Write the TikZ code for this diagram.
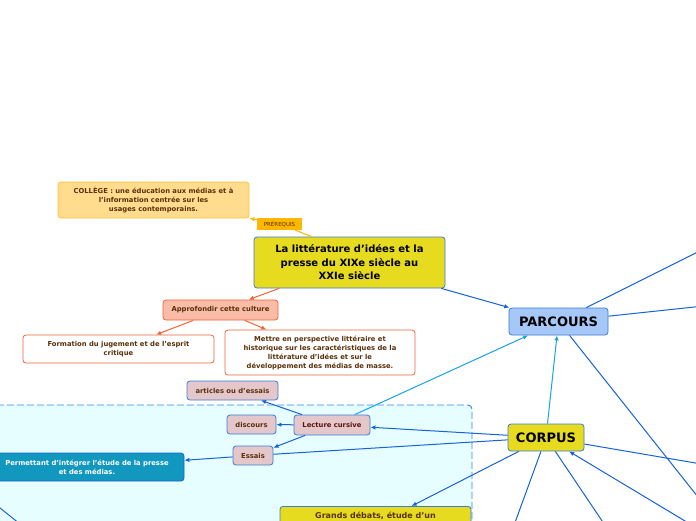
\documentclass[tikz,border=0pt]{standalone}
\usepackage{fontspec}
\setmainfont{DejaVu Sans}
\usetikzlibrary{arrows.meta}
\definecolor{mapyellow}{HTML}{E6DB1F}
\definecolor{mapblue}{HTML}{3C7BD6}
\definecolor{linkblue}{HTML}{1763D6}
\definecolor{skyblue}{HTML}{1AA3E6}
\definecolor{parcfill}{HTML}{A6C8F8}
\definecolor{prefill}{HTML}{FFDC8E}
\definecolor{preline}{HTML}{FFC236}
\definecolor{pretag}{HTML}{FFB700}
\definecolor{salmon}{HTML}{F8BCA7}
\definecolor{redorange}{HTML}{F2643A}
\definecolor{rose}{HTML}{E4C7CB}
\definecolor{teal}{HTML}{1297BF}
\definecolor{region}{HTML}{E6FEFF}
\definecolor{regionline}{HTML}{3388E0}
\definecolor{brown}{HTML}{5A300A}
\definecolor{darkred}{HTML}{5E1010}

\begin{document}
\begin{tikzpicture}[
  x=1pt, y=-1pt,
  box/.style={draw, rounded corners=3pt, align=center, inner sep=0pt, line width=0.8pt,
    text=brown, font=\bfseries\fontsize{6.8}{9}\selectfont},
  central/.style={box, fill=mapyellow, draw=mapblue, text=black},
  topic/.style={box, fill=rose, draw=mapblue},
  orangebox/.style={box, fill=white, draw=redorange},
  link/.style={draw=linkblue, line width=1pt},
  arr/.style={-{Latex[length=5pt,width=4.5pt]}},
  sky/.style={draw=skyblue, line width=1pt},
  redlink/.style={draw=redorange, line width=1pt}
]
  \useasboundingbox (0,0) rectangle (696,520);
  \clip (0,0) rectangle (696,520);
  \fill[white] (0,0) rectangle (696,520);

  \draw[fill=region, draw=regionline, line width=0.9pt, dash pattern=on 7pt off 3pt, rounded corners=4pt]
    (-10,560) -- (-10,405) -- (472,405) -- (472,560);

  \node[box, fill=prefill, draw=preline, text=brown, minimum width=191, minimum height=36] (college) at (153.5,200)
    {COLLÈGE : une éducation aux médias et à\\l’information centrée sur les\\usages contemporains.};
  \node[draw=none, fill=pretag, inner sep=0pt, minimum width=45, minimum height=12,
    text=brown, font=\fontsize{5.5}{7}\selectfont] (prereq) at (279.5,224) {PRÉREQUIS};
  \node[central, minimum width=191, minimum height=51, font=\bfseries\fontsize{10}{13.5}\selectfont] (main) at (349.5,262.5)
    {La littérature d’idées et la\\presse du XIXe siècle au\\XXIe siècle};
  \node[box, fill=parcfill, draw=mapblue, text=black, minimum width=99, minimum height=27,
    font=\bfseries\fontsize{13}{15}\selectfont] (parcours) at (558.5,321.5) {PARCOURS};
  \node[box, fill=salmon, draw=redorange, minimum width=115, minimum height=20] (approf) at (220.5,310)
    {Approfondir cette culture};
  \node[orangebox, minimum width=191, minimum height=28] (formation) at (118.5,349)
    {Formation du jugement et de l’esprit\\critique};
  \node[orangebox, minimum width=190, minimum height=45] (mettre) at (320,352.5)
    {Mettre en perspective littéraire et\\historique sur les caractéristiques de la\\littérature d’idées et sur le\\développement des médias de masse.};

  \node[topic, minimum width=91, minimum height=19] (articles) at (232.5,390.5) {articles ou d’essais};
  \node[topic, minimum width=49, minimum height=19] (discours) at (251.5,424.5) {discours};
  \node[topic, text=darkred, minimum width=76, minimum height=20] (lecture) at (332,425) {Lecture cursive};
  \node[topic, minimum width=40, minimum height=19] (essais) at (253,455.5) {Essais};
  \node[box, fill=teal, draw=linkblue, text=white, minimum width=194, minimum height=28] (permettant) at (87,467)
    {Permettant d’intégrer l’étude de la presse\\et des médias.};
  \node[central, anchor=north, minimum width=191, minimum height=36, font=\bfseries\fontsize{8}{10}\selectfont,
    text=brown, text depth=22pt, text height=11pt] (grands) at (375.5,506) {Grands débats, étude d’un};
  \node[central, minimum width=76, minimum height=27, font=\bfseries\fontsize{13}{15}\selectfont] (corpus) at (546,437.5)
    {CORPUS};

  \coordinate (pa) at (760,221);
  \coordinate (pb) at (760,300);
  \coordinate (pc) at (760,575);
  \coordinate (ca) at (760,474);
  \coordinate (cb) at (505,550);
  \coordinate (cc) at (625,555);
  \coordinate (cd) at (720,542);
  \coordinate (bla) at (-10,500);
  \coordinate (blb) at (25,528);

  \draw[draw=pretag, line width=1pt] ([xshift=58pt]main.north west) -- (prereq);
  \draw[draw=pretag, line width=1pt, arr] (prereq) -- (college);
  \draw[redlink, arr] (main) -- (approf);
  \draw[redlink, arr] (approf) -- (formation);
  \draw[redlink, arr] (approf) -- (mettre);
  \draw[link, arr] (main) -- (parcours);
  \draw[link] (parcours) -- (pa);
  \draw[link] (parcours) -- (pb);
  \draw[link] (parcours) -- (pc);
  \draw[sky, arr] (lecture) -- (parcours);
  \draw[sky, arr] (corpus) -- (parcours);
  \draw[link, arr] (corpus) -- (lecture);
  \draw[link] (corpus) -- (essais);
  \draw[link, arr] (essais) -- (permettant);
  \draw[link, arr] (lecture) -- (discours);
  \draw[link, arr] (lecture) -- (articles);
  \draw[link, arr] (lecture) -- (essais);
  \draw[link, arr] (corpus) -- (grands);
  \draw[link] (corpus) -- (ca);
  \draw[link] (corpus) -- (cb);
  \draw[link] (corpus) -- (cc);
  \draw[link, arr] (cd) -- (corpus);
  \draw[link] (bla) -- (blb);
\end{tikzpicture}
\end{document}
